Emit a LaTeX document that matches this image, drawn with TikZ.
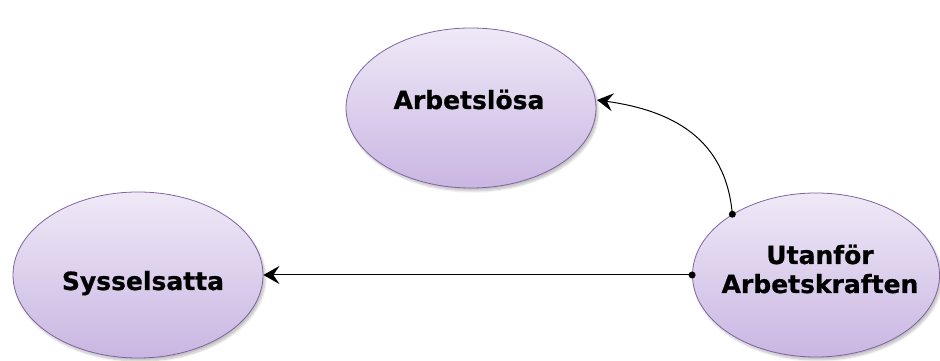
\documentclass[tikz,border=0pt]{standalone}
\usepackage{fontspec}
\setmainfont{DejaVu Sans}[BoldFeatures={FakeBold=0.8}]
\usetikzlibrary{shapes.geometric,arrows.meta,shadows.blur}
\definecolor{ellborder}{HTML}{8064A2}
\definecolor{elltop}{HTML}{EFE9F7}
\definecolor{ellbot}{HTML}{C9B6E2}
\tikzset{
  state/.style={ellipse, draw=ellborder, line width=0.8pt, top color=elltop, bottom color=ellbot,
    blur shadow={shadow xshift=2pt, shadow yshift=-3pt, shadow blur steps=6, shadow opacity=25},
    inner sep=0pt},
  lbl/.style={font=\fontsize{25}{30}\selectfont\bfseries, align=center, inner sep=0pt, anchor=base},
  conn/.style={line width=1pt, black, -{Stealth[length=16pt,width=18pt,inset=6pt]}},
  dotc/.style={circle, fill=black, inner sep=0pt, minimum size=7pt}
}
\begin{document}
\begin{tikzpicture}[x=1pt,y=1pt]
\useasboundingbox (0,0) rectangle (940,361);
\node[state, minimum width=250pt, minimum height=160pt] (arb) at (471,253) {};
\node[state, minimum width=250pt, minimum height=166pt] (sys) at (138,86) {};
\node[state, minimum width=247pt, minimum height=164pt] (utan) at (816,86) {};
\node[lbl] (arbt) at (469,252) {Arbetslösa};
\node[lbl] (syst) at (143,71) {Sysselsatta};
\node[lbl] (utant1) at (820,97) {Utanför};
\node[lbl] (utant2) at (820,68) {Arbetskraften};
\coordinate (arbin) at (597,261);
\node[dotc] (d1) at (utan.144) {};
\node[dotc] (d2) at (utan.west) {};
\draw[conn] (d1.center) to[out=95, in=-8, looseness=1.1] (arbin);
\draw[conn] (d2.center) -- (d2.center -| sys.east);
\end{tikzpicture}
\end{document}
